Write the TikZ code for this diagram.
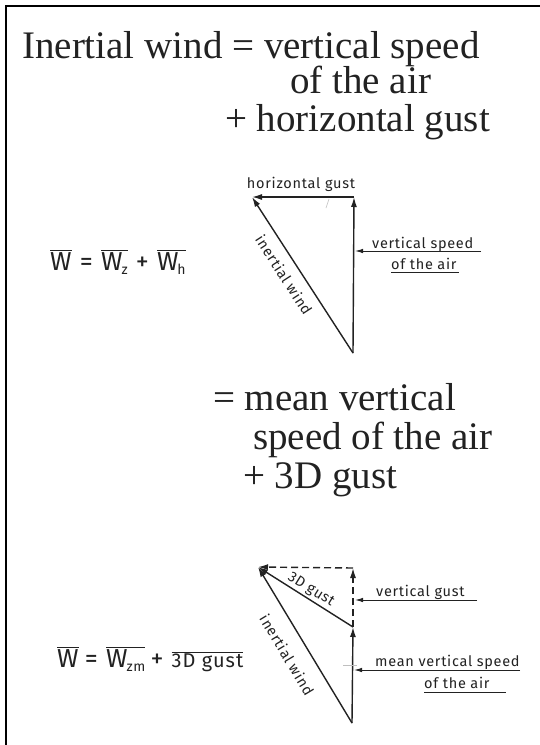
\documentclass[tikz,border=0pt]{standalone}
\usepackage{fontspec}
\setmainfont{Liberation Serif}
\newfontfamily\handfont[LetterSpace=5]{Fira Sans}
\usetikzlibrary{arrows.meta}
\definecolor{ink}{HTML}{222222}
\tikzset{
  big/.style={font=\fontsize{39}{39}\selectfont, text=ink, inner sep=0pt, anchor=base west},
  hand/.style={font=\handfont\fontsize{14.5}{14.5}\selectfont, text=ink, inner sep=0pt},
  eqn/.style={font=\handfont\fontsize{26}{26}\selectfont, text=ink, inner sep=0pt, anchor=base west},
  vec/.style={draw=ink, line width=1.4pt, -{Latex[length=10pt,width=6pt]}},
  lbl/.style={draw=ink, line width=1pt, -{Latex[length=8pt,width=4.5pt]}},
  uline/.style={draw=ink, line width=1pt},
  dashvec/.style={vec, dash pattern=on 7pt off 4pt},
  faint/.style={draw=gray!50, line width=0.6pt}
}
\newcommand\ob[1]{$\overline{\hbox{#1}}$}
\newcommand\subsc[1]{\kern-1pt\raisebox{-4pt}{\fontsize{14}{14}\selectfont #1}}
\begin{document}
\begin{tikzpicture}[x=1pt,y=-1pt]
\useasboundingbox (0,0) rectangle (540,745);
\fill[white] (0,0) rectangle (540,745);
% frame (left and top)
\draw[black, line width=2.5pt] (6,745) -- (6,6) -- (540,6);

% heading 1
\node[big] (t1) at (22,58) {Inertial wind = vertical speed};
\node[big] (t2) at (290,93) {of the air};
\node[big] (t3) at (225,131) {+ horizontal gust};

% diagram 1
\coordinate (A1) at (252,197);
\coordinate (B1) at (354,197);
\coordinate (C1) at (353,353);
\draw[vec] (B1) -- (A1);
\draw[vec] (C1) -- (B1);
\draw[vec] (C1) -- (A1);
\draw[faint] (329,199) -- (326,208);
\node[hand] (hg) at (301,184) {horizontal gust};
\node[hand, rotate=-57] (iw1) at (284,275) {inertial wind};
\node[hand, anchor=base west] (vs1) at (372,248) {vertical speed};
\coordinate (vs1e) at (481,251);
\coordinate (vs1t) at (355,251);
\draw[lbl] (vs1e) -- (vs1t);
\node[hand, anchor=base west] (oa1) at (391,269) {of the air};
\draw[uline] (oa1.base west) ++(0,3) -- ++(68,0);

\node[eqn] (eq1) at (50,270) {\ob{W} = \ob{W\subsc{z}} + \ob{W\subsc{h}}};

% heading 2
\node[big] (u1) at (213,410) {= mean vertical};
\node[big] (u2) at (253,449) {speed of the air};
\node[big] (u3) at (243,488) {+ 3D gust};

% diagram 2
\coordinate (A2) at (258,567);
\coordinate (B2) at (353,568);
\coordinate (M2) at (353,627);
\coordinate (C2) at (352,723);
\draw[dashvec] (B2) -- (A2);
\draw[dashvec] (M2) -- (B2);
\draw[vec] (C2) -- (M2);
\draw[vec] (M2) -- (A2);
\draw[vec] (C2) -- (A2);
\draw[faint] (343,665) -- (357,665);
\node[hand, rotate=-32] (g3d) at (311,590) {3D gust};
\node[hand, rotate=-59] (iw2) at (287,655) {inertial wind};
\node[hand, anchor=base west] (vg) at (376,596) {vertical gust};
\coordinate (vge) at (477,600);
\coordinate (vgt) at (355,600);
\draw[lbl] (vge) -- (vgt);
\node[hand, anchor=base west] (mv) at (375,666) {mean vertical speed};
\coordinate (mve) at (520,670);
\coordinate (mvt) at (354,670);
\draw[lbl] (mve) -- (mvt);
\node[hand, anchor=base west] (oa2) at (424,688) {of the air};
\draw[uline] (oa2.base west) ++(0,4) -- ++(82,0);

\node[eqn] (eq2) at (57,667) {\ob{W}\kern-2pt{} = \ob{W\subsc{zm}}\kern-3pt{} + {\fontsize{20}{20}\selectfont\ob{3D gust}}};
\end{tikzpicture}
\end{document}
